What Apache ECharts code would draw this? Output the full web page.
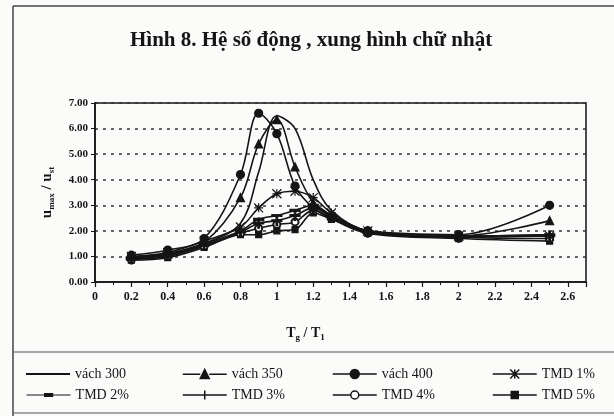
<!DOCTYPE html>
<html>
<head>
<meta charset="utf-8">
<script src="https://cdn.jsdelivr.net/npm/echarts@6/dist/echarts.min.js"></script>
<style>
  html, body { margin: 0; padding: 0; background: #fbfbfa; }
  #chart { width: 614px; height: 416px; }
</style>
</head>
<body>
<div id="chart"></div>
<script>
// Tg/T1 ratio points
const xs = [0.2, 0.4, 0.6, 0.8, 0.9, 1.0, 1.1, 1.2, 1.3, 1.5, 2.0, 2.5];

// u_max / u_st per case
const vach300 = [0.95, 1.05, 1.5, 2.3, 4.3, 6.5, 6.0, 4.0, 2.8, 2.0, 1.8, 1.85];
const vach350 = [1.0, 1.1, 1.55, 3.3, 5.4, 6.35, 4.5, 3.1, 2.6, 2.0, 1.8, 2.4];
const vach400 = [1.05, 1.25, 1.7, 4.2, 6.6, 5.8, 3.75, 2.9, 2.5, 2.0, 1.85, 3.0];
const tmd1 = [1.0, 1.15, 1.6, 2.15, 2.9, 3.45, 3.55, 3.3, 2.7, 2.0, 1.8, 1.8];
const tmd2 = [0.95, 1.1, 1.5, 2.0, 2.45, 2.6, 2.8, 3.0, 2.6, 1.95, 1.8, 1.85];
const tmd3 = [0.9, 1.05, 1.45, 1.95, 2.3, 2.4, 2.6, 2.9, 2.55, 1.95, 1.75, 1.8];
const tmd4 = [0.88, 1.0, 1.4, 1.9, 2.1, 2.25, 2.35, 2.8, 2.5, 1.95, 1.75, 1.7];
const tmd5 = [0.85, 0.95, 1.35, 1.85, 1.85, 2.0, 2.05, 2.7, 2.45, 1.9, 1.7, 1.6];

const names = ['vách 300', 'vách 350', 'vách 400', 'TMD 1%', 'TMD 2%', 'TMD 3%', 'TMD 4%', 'TMD 5%'];

const FONT = '"Liberation Serif", "DejaVu Serif", serif';
const INK = '#151515';

const STAR = 'path://M5,0 L5,10 M0,0 L10,10 M10,0 L0,10 M0,5 L10,5';
const PLUS = 'path://M4.2,0 H5.8 V4.2 H10 V5.8 H5.8 V10 H4.2 V5.8 H0 V4.2 H4.2 Z';

const marks = [
  { symbol: 'none', size: 0 },
  { symbol: 'triangle', size: 8 },
  { symbol: 'circle', size: 8 },
  { symbol: STAR, size: 9 },
  { symbol: 'rect', size: [9, 2.5] },
  { symbol: PLUS, size: 10 },
  { symbol: 'emptyCircle', size: 7 },
  { symbol: 'rect', size: 6 },
];
const values = [vach300, vach350, vach400, tmd1, tmd2, tmd3, tmd4, tmd5];

// legend icons: line segment with the marker in the middle (box 44 wide)
const legIcons = [
  { icon: 'rect', h: 2, fill: INK, bw: 0 },
  { icon: 'path://M0,4.8 L17.5,4.8 M26.5,4.8 L44,4.8 M22,0 L26.5,9 L17.5,9 Z', h: 9, fill: INK, bw: 1.5 },
  { icon: 'path://M0,4.5 L17.5,4.5 M26.5,4.5 L44,4.5 M17.5,4.5 A4.5,4.5 0 1,0 26.5,4.5 A4.5,4.5 0 1,0 17.5,4.5 Z', h: 9, fill: INK, bw: 1.5 },
  { icon: 'path://M0,4.5 L44,4.5 M22,0 L22,9 M17.5,0 L26.5,9 M26.5,0 L17.5,9', h: 9, fill: INK, bw: 1.5 },
  { icon: 'path://M0,1.5 L44,1.5 M18,0 L26,0 L26,3 L18,3 Z', h: 3, fill: INK, bw: 1.2 },
  { icon: 'path://M0,4.5 L44,4.5 M22,0 L22,9', h: 9, fill: INK, bw: 1.5 },
  { icon: 'path://M0,4 L18,4 M26,4 L44,4 M18,4 A4,4 0 1,0 26,4 A4,4 0 1,0 18,4 Z', h: 8, fill: '#fbfbfa', bw: 1.5 },
  { icon: 'path://M0,3.5 L44,3.5 M18.5,0 L25.5,0 L25.5,7 L18.5,7 Z', h: 7, fill: INK, bw: 1.5 },
];

const series = names.map((name, i) => ({
  name,
  type: 'line',
  smooth: 0.35,
  data: xs.map((x, k) => [x, values[i][k]]),
  symbol: marks[i].symbol,
  symbolSize: marks[i].size,
  showSymbol: marks[i].symbol !== 'none',
  lineStyle: { color: INK, width: 1.6 },
  itemStyle: { color: INK, borderColor: INK, borderWidth: 1.2 },
  z: 10 - i,
}));

// legend slots: 4 columns x 2 rows
const legCols = [26, 182, 332, 492];
const legRows = [367, 388];
const legends = names.map((name, i) => ({
  data: [{ name, icon: legIcons[i].icon }],
  left: legCols[i % 4],
  top: legRows[Math.floor(i / 4)],
  padding: 0,
  itemWidth: 44,
  itemHeight: legIcons[i].h,
  itemStyle: { color: legIcons[i].fill, borderColor: INK, borderWidth: legIcons[i].bw },
  textStyle: { fontFamily: FONT, fontSize: 14, color: INK },
  selectedMode: false,
}));

const sub = { fontFamily: FONT, fontWeight: 'bold', color: INK };

const chart = echarts.init(document.getElementById('chart'), null, { renderer: 'canvas' });
chart.setOption({
  backgroundColor: '#fbfbfa',
  animation: false,
  title: {
    text: '{r|Hình 8. }{b|Hệ số động , xung hình chữ nhật}',
    left: 130,
    top: 30,
    padding: 0,
    textStyle: {
      rich: {
        r: { fontFamily: FONT, fontSize: 21, color: INK },
        b: { fontFamily: FONT, fontSize: 21, fontWeight: 'bold', color: INK },
      },
    },
  },
  legend: legends,
  grid: { left: 95, right: 28, top: 103, bottom: 134, show: true, borderColor: INK, borderWidth: 1.5, backgroundColor: 'transparent' },
  xAxis: {
    type: 'value',
    min: 0,
    max: 2.7,
    interval: 0.2,
    name: '{b|T}{s|g}{b| / T}{s|1}',
    nameLocation: 'middle',
    nameGap: 42,
    nameTextStyle: {
      padding: [0, 70, 0, 0],
      rich: {
        b: { ...sub, fontSize: 14, lineHeight: 18 },
        s: { ...sub, fontSize: 9, lineHeight: 9, verticalAlign: 'bottom' },
      },
    },
    axisLine: { lineStyle: { color: INK, width: 1.5 } },
    axisTick: { show: true, length: 5, lineStyle: { color: INK, width: 1.2 } },
    minorTick: { show: true, splitNumber: 2, length: 3, lineStyle: { color: INK } },
    axisLabel: { showMaxLabel: false, fontFamily: FONT, fontWeight: 'bold', fontSize: 12, color: INK, margin: 9 },
    splitLine: { show: false },
  },
  yAxis: {
    type: 'value',
    min: 0,
    max: 7,
    interval: 1,
    name: '{b|u}{s|max}{b| / u}{s|st}',
    nameLocation: 'middle',
    nameRotate: 90,
    nameGap: 39,
    nameTextStyle: {
      rich: {
        b: { ...sub, fontSize: 15, lineHeight: 18 },
        s: { ...sub, fontSize: 9, lineHeight: 9, verticalAlign: 'bottom' },
      },
    },
    axisLine: { show: true, lineStyle: { color: INK, width: 1.5 } },
    axisTick: { show: true, length: 4, lineStyle: { color: INK } },
    axisLabel: {
      formatter: (v) => v.toFixed(2),
      fontFamily: FONT, fontWeight: 'bold', fontSize: 11, color: INK, margin: 7,
    },
    splitLine: { lineStyle: { color: '#333', width: 1.5, type: [3, 5] } },
  },
  graphic: [
    // outer chart frame (left and top) and legend box rules
    { type: 'line', shape: { x1: 13, y1: 6, x2: 614, y2: 6 }, style: { stroke: '#444', lineWidth: 1.5 } },
    { type: 'line', shape: { x1: 13, y1: 6, x2: 13, y2: 416 }, style: { stroke: '#444', lineWidth: 1.5 } },
    { type: 'line', shape: { x1: 13, y1: 352, x2: 614, y2: 352 }, style: { stroke: '#555', lineWidth: 1.2 } },
    { type: 'line', shape: { x1: 13, y1: 413, x2: 614, y2: 413 }, style: { stroke: '#555', lineWidth: 1.2 } },
  ],
  series,
});
</script>
</body>
</html>
